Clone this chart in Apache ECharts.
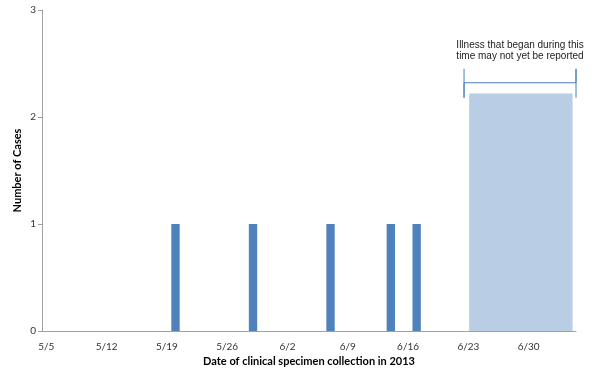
<!DOCTYPE html>
<html><head><meta charset="utf-8">
<script src="https://cdn.jsdelivr.net/npm/echarts@6/dist/echarts.min.js"></script>
<style>html,body{margin:0;padding:0;background:#fff}#c{width:600px;height:378px}</style>
</head><body><div id="c"></div>
<script>
const dates = ['5/5','5/6','5/7','5/8','5/9','5/10','5/11','5/12','5/13','5/14','5/15','5/16','5/17','5/18',
'5/19','5/20','5/21','5/22','5/23','5/24','5/25','5/26','5/27','5/28','5/29','5/30','5/31',
'6/1','6/2','6/3','6/4','6/5','6/6','6/7','6/8','6/9','6/10','6/11','6/12','6/13','6/14','6/15',
'6/16','6/17','6/18','6/19','6/20','6/21','6/22','6/23','6/24','6/25','6/26','6/27','6/28','6/29',
'6/30','7/1','7/2','7/3','7/4','7/5'];
const cases = [0,0,0,0,0,0,0,0,0,0,0,0,0,0,
0,1,0,0,0,0,0,0,0,0,1,0,0,
0,0,0,0,0,0,1,0,0,0,0,0,0,1,0,
0,1,0,0,0,0,0,0,0,0,0,0,0,0,
0,0,0,0,0,0];
const yTicks = [0,1,2,3];
// pending-report box, in day units (0 = start of 5/5)
const pendingFrom = 49.6, pendingTo = 61.6, pendingHeight = 2.22;
const bracketX = [49, 49, 49, 62, 62, 62];
const bracketY = [2.45, 2.18, 2.32, 2.32, 2.45, 2.18];
const noteText = 'Illness that began during this\ntime may not yet be reported';

const chart = echarts.init(document.getElementById('c'), null, {renderer:'canvas'});
const axisCol = '#a0a0a0';
chart.setOption({
  animation:false,
  grid:{left:42, right:24, top:10, bottom:47, containLabel:false},
  xAxis:[{
    type:'category', data:dates, boundaryGap:true,
    name:'Date of clinical specimen collection in 2013', nameLocation:'middle', nameGap:25,
    nameMoveOverlap:false,
    nameTextStyle:{fontFamily:'Lato', fontWeight:'bold', fontSize:11, color:'#000'},
    axisLine:{lineStyle:{color:axisCol}},
    axisTick:{interval:0, length:3, lineStyle:{color:axisCol}},
    axisLabel:{interval:6, fontFamily:'Lato', fontSize:10, color:'#333', margin:11}
  },{
    type:'value', min:0, max:62, show:false
  }],
  yAxis:{
    type:'value', min:yTicks[0], max:yTicks[yTicks.length-1], interval:1,
    name:'Number of Cases', nameLocation:'middle', nameGap:19, nameRotate:90,
    nameMoveOverlap:false,
    nameTextStyle:{fontFamily:'Lato', fontWeight:'bold', fontSize:11, color:'#000'},
    axisLine:{show:true, lineStyle:{color:axisCol}},
    axisTick:{show:true, length:4, lineStyle:{color:axisCol}},
    splitLine:{show:false},
    axisLabel:{fontFamily:'Lato', fontSize:10, color:'#333', margin:6}
  },
  series:[{
    type:'line', xAxisIndex:1, data:bracketX.map((x,i)=>[x,bracketY[i]]),
    symbol:'none', lineStyle:{color:'#4a7ebb', width:1}, silent:true, z:1,
    markArea:{silent:true, itemStyle:{color:'#b9cde5', opacity:1},
      data:[[{xAxis:pendingFrom, yAxis:0},{xAxis:pendingTo, yAxis:pendingHeight}]]}
  },{
    type:'bar', data:cases, barWidth:'97%', itemStyle:{color:'#4f81bd'}, z:3
  }]
});
const px = chart.convertToPixel({xAxisIndex:1, yAxisIndex:0}, [55.5, 2.32]);
chart.setOption({graphic:[{type:'text', x:px[0], y:px[1]-43,
  style:{text:noteText, fontFamily:'Liberation Sans', fontSize:10, fill:'#222', align:'center', textAlign:'center', lineHeight:11}}]});
</script></body></html>
